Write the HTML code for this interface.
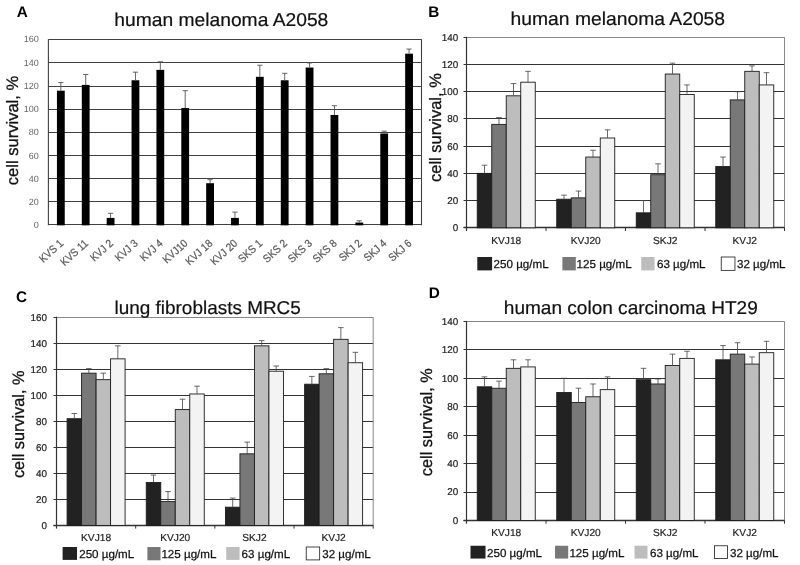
<!DOCTYPE html>
<html><head><meta charset="utf-8"><title>Figure</title>
<style>html,body{margin:0;padding:0;background:#fff;}body{width:800px;height:565px;overflow:hidden;}svg{display:block;font-family:'Liberation Sans', sans-serif;filter:grayscale(1);text-rendering:geometricPrecision;}</style>
</head><body>
<svg width="800" height="565" viewBox="0 0 800 565">
<rect width="800" height="565" fill="#fff"/>
<line x1="48.4" x2="421.5" y1="224.5" y2="224.5" stroke="#414141" stroke-width="1.2"/>
<text x="38.7" y="227.95" font-size="9" fill="#666" text-anchor="end">0</text>
<line x1="48.4" x2="421.5" y1="201.5" y2="201.5" stroke="#414141" stroke-width="1.2"/>
<text x="38.7" y="204.82" font-size="9" fill="#666" text-anchor="end">20</text>
<line x1="48.4" x2="421.5" y1="178.5" y2="178.5" stroke="#414141" stroke-width="1.2"/>
<text x="38.7" y="181.69" font-size="9" fill="#666" text-anchor="end">40</text>
<line x1="48.4" x2="421.5" y1="155.5" y2="155.5" stroke="#414141" stroke-width="1.2"/>
<text x="38.7" y="158.55" font-size="9" fill="#666" text-anchor="end">60</text>
<line x1="48.4" x2="421.5" y1="132.5" y2="132.5" stroke="#414141" stroke-width="1.2"/>
<text x="38.7" y="135.42" font-size="9" fill="#666" text-anchor="end">80</text>
<line x1="48.4" x2="421.5" y1="109.5" y2="109.5" stroke="#414141" stroke-width="1.2"/>
<text x="38.7" y="112.29" font-size="9" fill="#666" text-anchor="end">100</text>
<line x1="48.4" x2="421.5" y1="86.5" y2="86.5" stroke="#414141" stroke-width="1.2"/>
<text x="38.7" y="89.16" font-size="9" fill="#666" text-anchor="end">120</text>
<line x1="48.4" x2="421.5" y1="62.5" y2="62.5" stroke="#414141" stroke-width="1.2"/>
<text x="38.7" y="66.03" font-size="9" fill="#666" text-anchor="end">140</text>
<line x1="48.4" x2="421.5" y1="39.5" y2="39.5" stroke="#414141" stroke-width="1.2"/>
<text x="38.7" y="41.59" font-size="9" fill="#666" text-anchor="end">160</text>
<line x1="48.4" x2="48.4" y1="39.29" y2="225.35" stroke="#414141" stroke-width="1.1"/>
<line x1="421.5" x2="421.5" y1="39.29" y2="225.35" stroke="#414141" stroke-width="1.1"/>
<rect x="56.94" y="90.68" width="7.8" height="134.67" fill="#000"/>
<path d="M60.84 90.68V82.59M58.24 82.59H63.44" stroke="#555" stroke-width="0.9" fill="none"/>
<text transform="translate(64.04 244.4) rotate(-42) scale(0.9 1)" font-size="11" fill="#5a5a5a" stroke="#5a5a5a" stroke-width="0.25" text-anchor="end">KVS 1</text>
<rect x="81.81" y="84.9" width="7.8" height="140.45" fill="#000"/>
<path d="M85.71 84.9V74.49M83.11 74.49H88.31" stroke="#555" stroke-width="0.9" fill="none"/>
<text transform="translate(88.91 244.4) rotate(-42) scale(0.9 1)" font-size="11" fill="#5a5a5a" stroke="#5a5a5a" stroke-width="0.25" text-anchor="end">KVS 11</text>
<rect x="106.68" y="217.91" width="7.8" height="7.44" fill="#000"/>
<path d="M110.58 217.91V213.28M107.98 213.28H113.18" stroke="#555" stroke-width="0.9" fill="none"/>
<text transform="translate(113.78 244.4) rotate(-42) scale(0.9 1)" font-size="11" fill="#5a5a5a" stroke="#5a5a5a" stroke-width="0.25" text-anchor="end">KVJ 2</text>
<rect x="131.56" y="80.27" width="7.8" height="145.08" fill="#000"/>
<path d="M135.46 80.27V72.18M132.86 72.18H138.06" stroke="#555" stroke-width="0.9" fill="none"/>
<text transform="translate(138.66 244.4) rotate(-42) scale(0.9 1)" font-size="11" fill="#5a5a5a" stroke="#5a5a5a" stroke-width="0.25" text-anchor="end">KVJ 3</text>
<rect x="156.43" y="69.87" width="7.8" height="155.48" fill="#000"/>
<path d="M160.33 69.87V61.77M157.73 61.77H162.93" stroke="#555" stroke-width="0.9" fill="none"/>
<text transform="translate(163.53 244.4) rotate(-42) scale(0.9 1)" font-size="11" fill="#5a5a5a" stroke="#5a5a5a" stroke-width="0.25" text-anchor="end">KVJ 4</text>
<rect x="181.3" y="108.03" width="7.8" height="117.32" fill="#000"/>
<path d="M185.2 108.03V90.68M182.6 90.68H187.8" stroke="#555" stroke-width="0.9" fill="none"/>
<text transform="translate(188.4 244.4) rotate(-42) scale(0.9 1)" font-size="11" fill="#5a5a5a" stroke="#5a5a5a" stroke-width="0.25" text-anchor="end">KVJ10</text>
<rect x="206.18" y="183.21" width="7.8" height="42.14" fill="#000"/>
<path d="M210.08 183.21V179.74M207.48 179.74H212.68" stroke="#555" stroke-width="0.9" fill="none"/>
<text transform="translate(213.28 244.4) rotate(-42) scale(0.9 1)" font-size="11" fill="#5a5a5a" stroke="#5a5a5a" stroke-width="0.25" text-anchor="end">KVJ 18</text>
<rect x="231.05" y="217.91" width="7.8" height="7.44" fill="#000"/>
<path d="M234.95 217.91V212.13M232.35 212.13H237.55" stroke="#555" stroke-width="0.9" fill="none"/>
<text transform="translate(238.15 244.4) rotate(-42) scale(0.9 1)" font-size="11" fill="#5a5a5a" stroke="#5a5a5a" stroke-width="0.25" text-anchor="end">KVJ 20</text>
<rect x="255.92" y="76.81" width="7.8" height="148.54" fill="#000"/>
<path d="M259.82 76.81V65.24M257.22 65.24H262.42" stroke="#555" stroke-width="0.9" fill="none"/>
<text transform="translate(263.02 244.4) rotate(-42) scale(0.9 1)" font-size="11" fill="#5a5a5a" stroke="#5a5a5a" stroke-width="0.25" text-anchor="end">SKS 1</text>
<rect x="280.8" y="80.27" width="7.8" height="145.08" fill="#000"/>
<path d="M284.7 80.27V73.34M282.1 73.34H287.3" stroke="#555" stroke-width="0.9" fill="none"/>
<text transform="translate(287.9 244.4) rotate(-42) scale(0.9 1)" font-size="11" fill="#5a5a5a" stroke="#5a5a5a" stroke-width="0.25" text-anchor="end">SKS 2</text>
<rect x="305.67" y="67.55" width="7.8" height="157.8" fill="#000"/>
<path d="M309.57 67.55V62.93M306.97 62.93H312.17" stroke="#555" stroke-width="0.9" fill="none"/>
<text transform="translate(312.77 244.4) rotate(-42) scale(0.9 1)" font-size="11" fill="#5a5a5a" stroke="#5a5a5a" stroke-width="0.25" text-anchor="end">SKS 3</text>
<rect x="330.54" y="114.97" width="7.8" height="110.38" fill="#000"/>
<path d="M334.44 114.97V105.72M331.84 105.72H337.04" stroke="#555" stroke-width="0.9" fill="none"/>
<text transform="translate(337.64 244.4) rotate(-42) scale(0.9 1)" font-size="11" fill="#5a5a5a" stroke="#5a5a5a" stroke-width="0.25" text-anchor="end">SKS 8</text>
<rect x="355.42" y="222.54" width="7.8" height="2.81" fill="#000"/>
<path d="M359.32 222.54V220.8M356.72 220.8H361.92" stroke="#555" stroke-width="0.9" fill="none"/>
<text transform="translate(362.52 244.4) rotate(-42) scale(0.9 1)" font-size="11" fill="#5a5a5a" stroke="#5a5a5a" stroke-width="0.25" text-anchor="end">SKJ 2</text>
<rect x="380.29" y="133.48" width="7.8" height="91.87" fill="#000"/>
<path d="M384.19 133.48V131.17M381.59 131.17H386.79" stroke="#555" stroke-width="0.9" fill="none"/>
<text transform="translate(387.39 244.4) rotate(-42) scale(0.9 1)" font-size="11" fill="#5a5a5a" stroke="#5a5a5a" stroke-width="0.25" text-anchor="end">SKJ 4</text>
<rect x="405.16" y="53.67" width="7.8" height="171.68" fill="#000"/>
<path d="M409.06 53.67V49.05M406.46 49.05H411.66" stroke="#555" stroke-width="0.9" fill="none"/>
<text transform="translate(412.26 244.4) rotate(-42) scale(0.9 1)" font-size="11" fill="#5a5a5a" stroke="#5a5a5a" stroke-width="0.25" text-anchor="end">SKJ 6</text>
<text x="114.3" y="26.1" font-size="18.6" fill="#111" stroke="#111" stroke-width="0.2" textLength="214" lengthAdjust="spacingAndGlyphs">human melanoma A2058</text>
<text transform="translate(18.4 130.5) rotate(-90)" font-size="16.5" fill="#111" stroke="#111" stroke-width="0.3" text-anchor="middle" textLength="109.4" lengthAdjust="spacingAndGlyphs">cell survival, %</text>
<text x="16.8" y="17" font-size="15.3" font-weight="bold" fill="#000">A</text>
<line x1="466.5" x2="784.5" y1="227.5" y2="227.5" stroke="#333" stroke-width="1"/>
<line x1="463.5" x2="466.5" y1="227.5" y2="227.5" stroke="#333" stroke-width="1"/>
<text x="458.3" y="231.2" font-size="9.9" fill="#222" stroke="#222" stroke-width="0.2" text-anchor="end">0</text>
<line x1="466.5" x2="784.5" y1="200.5" y2="200.5" stroke="#333" stroke-width="1"/>
<line x1="463.5" x2="466.5" y1="200.5" y2="200.5" stroke="#333" stroke-width="1"/>
<text x="458.3" y="203.99" font-size="9.9" fill="#222" stroke="#222" stroke-width="0.2" text-anchor="end">20</text>
<line x1="466.5" x2="784.5" y1="173.5" y2="173.5" stroke="#333" stroke-width="1"/>
<line x1="463.5" x2="466.5" y1="173.5" y2="173.5" stroke="#333" stroke-width="1"/>
<text x="458.3" y="176.77" font-size="9.9" fill="#222" stroke="#222" stroke-width="0.2" text-anchor="end">40</text>
<line x1="466.5" x2="784.5" y1="146.5" y2="146.5" stroke="#333" stroke-width="1"/>
<line x1="463.5" x2="466.5" y1="146.5" y2="146.5" stroke="#333" stroke-width="1"/>
<text x="458.3" y="149.56" font-size="9.9" fill="#222" stroke="#222" stroke-width="0.2" text-anchor="end">60</text>
<line x1="466.5" x2="784.5" y1="118.5" y2="118.5" stroke="#333" stroke-width="1"/>
<line x1="463.5" x2="466.5" y1="118.5" y2="118.5" stroke="#333" stroke-width="1"/>
<text x="458.3" y="122.34" font-size="9.9" fill="#222" stroke="#222" stroke-width="0.2" text-anchor="end">80</text>
<line x1="466.5" x2="784.5" y1="91.5" y2="91.5" stroke="#333" stroke-width="1"/>
<line x1="463.5" x2="466.5" y1="91.5" y2="91.5" stroke="#333" stroke-width="1"/>
<text x="458.3" y="95.13" font-size="9.9" fill="#222" stroke="#222" stroke-width="0.2" text-anchor="end">100</text>
<line x1="466.5" x2="784.5" y1="64.5" y2="64.5" stroke="#333" stroke-width="1"/>
<line x1="463.5" x2="466.5" y1="64.5" y2="64.5" stroke="#333" stroke-width="1"/>
<text x="458.3" y="67.91" font-size="9.9" fill="#222" stroke="#222" stroke-width="0.2" text-anchor="end">120</text>
<line x1="466.5" x2="784.5" y1="37.5" y2="37.5" stroke="#888" stroke-width="1"/>
<line x1="463.5" x2="466.5" y1="37.5" y2="37.5" stroke="#333" stroke-width="1"/>
<text x="458.3" y="40.7" font-size="9.9" fill="#222" stroke="#222" stroke-width="0.2" text-anchor="end">140</text>
<line x1="784.5" x2="784.5" y1="37.3" y2="227.8" stroke="#888" stroke-width="1"/>
<line x1="466.5" x2="466.5" y1="36.8" y2="231" stroke="#333" stroke-width="1.2"/>
<line x1="463.5" x2="784.5" y1="227.5" y2="227.5" stroke="#333" stroke-width="1.3"/>
<line x1="546" x2="546" y1="227.8" y2="231" stroke="#333" stroke-width="1"/>
<rect x="477.25" y="173.37" width="14.5" height="54.43" fill="#222222" stroke="#1c1c1c" stroke-width="0.9"/>
<path d="M484.5 173.37V165.21M481.7 165.21H487.3" stroke="#444" stroke-width="0.8" fill="none"/>
<rect x="491.75" y="124.39" width="14.5" height="103.41" fill="#787878" stroke="#1c1c1c" stroke-width="0.9"/>
<path d="M499 124.39V117.58M496.2 117.58H501.8" stroke="#444" stroke-width="0.8" fill="none"/>
<rect x="506.25" y="95.81" width="14.5" height="131.99" fill="#bdbdbd" stroke="#1c1c1c" stroke-width="0.9"/>
<path d="M513.5 95.81V83.56M510.7 83.56H516.3" stroke="#444" stroke-width="0.8" fill="none"/>
<rect x="520.75" y="82.2" width="14.5" height="145.6" fill="#f3f3f3" stroke="#1c1c1c" stroke-width="0.9"/>
<path d="M528 82.2V71.32M525.2 71.32H530.8" stroke="#444" stroke-width="0.8" fill="none"/>
<text x="506.25" y="243.6" font-size="10.2" fill="#222" stroke="#222" stroke-width="0.2" text-anchor="middle">KVJ18</text>
<line x1="625.5" x2="625.5" y1="227.8" y2="231" stroke="#333" stroke-width="1"/>
<rect x="556.75" y="199.23" width="14.5" height="28.57" fill="#222222" stroke="#1c1c1c" stroke-width="0.9"/>
<path d="M564 199.23V195.14M561.2 195.14H566.8" stroke="#444" stroke-width="0.8" fill="none"/>
<rect x="571.25" y="197.86" width="14.5" height="29.94" fill="#787878" stroke="#1c1c1c" stroke-width="0.9"/>
<path d="M578.5 197.86V191.06M575.7 191.06H581.3" stroke="#444" stroke-width="0.8" fill="none"/>
<rect x="585.75" y="157.04" width="14.5" height="70.76" fill="#bdbdbd" stroke="#1c1c1c" stroke-width="0.9"/>
<path d="M593 157.04V150.24M590.2 150.24H595.8" stroke="#444" stroke-width="0.8" fill="none"/>
<rect x="600.25" y="137.99" width="14.5" height="89.81" fill="#f3f3f3" stroke="#1c1c1c" stroke-width="0.9"/>
<path d="M607.5 137.99V129.83M604.7 129.83H610.3" stroke="#444" stroke-width="0.8" fill="none"/>
<text x="585.75" y="243.6" font-size="10.2" fill="#222" stroke="#222" stroke-width="0.2" text-anchor="middle">KVJ20</text>
<line x1="705" x2="705" y1="227.8" y2="231" stroke="#333" stroke-width="1"/>
<rect x="636.25" y="212.83" width="14.5" height="14.97" fill="#222222" stroke="#1c1c1c" stroke-width="0.9"/>
<path d="M643.5 212.83V200.59M640.7 200.59H646.3" stroke="#444" stroke-width="0.8" fill="none"/>
<rect x="650.75" y="174.73" width="14.5" height="53.07" fill="#787878" stroke="#1c1c1c" stroke-width="0.9"/>
<path d="M658 174.73V163.85M655.2 163.85H660.8" stroke="#444" stroke-width="0.8" fill="none"/>
<rect x="665.25" y="74.04" width="14.5" height="153.76" fill="#bdbdbd" stroke="#1c1c1c" stroke-width="0.9"/>
<path d="M672.5 74.04V63.15M669.7 63.15H675.3" stroke="#444" stroke-width="0.8" fill="none"/>
<rect x="679.75" y="94.45" width="14.5" height="133.35" fill="#f3f3f3" stroke="#1c1c1c" stroke-width="0.9"/>
<path d="M687 94.45V84.93M684.2 84.93H689.8" stroke="#444" stroke-width="0.8" fill="none"/>
<text x="665.25" y="243.6" font-size="10.2" fill="#222" stroke="#222" stroke-width="0.2" text-anchor="middle">SKJ2</text>
<line x1="784.5" x2="784.5" y1="227.8" y2="231" stroke="#333" stroke-width="1"/>
<rect x="715.75" y="166.57" width="14.5" height="61.23" fill="#222222" stroke="#1c1c1c" stroke-width="0.9"/>
<path d="M723 166.57V157.04M720.2 157.04H725.8" stroke="#444" stroke-width="0.8" fill="none"/>
<rect x="730.25" y="99.89" width="14.5" height="127.91" fill="#787878" stroke="#1c1c1c" stroke-width="0.9"/>
<path d="M737.5 99.89V91.73M734.7 91.73H740.3" stroke="#444" stroke-width="0.8" fill="none"/>
<rect x="744.75" y="71.32" width="14.5" height="156.48" fill="#bdbdbd" stroke="#1c1c1c" stroke-width="0.9"/>
<path d="M752 71.32V65.88M749.2 65.88H754.8" stroke="#444" stroke-width="0.8" fill="none"/>
<rect x="759.25" y="84.93" width="14.5" height="142.88" fill="#f3f3f3" stroke="#1c1c1c" stroke-width="0.9"/>
<path d="M766.5 84.93V72.68M763.7 72.68H769.3" stroke="#444" stroke-width="0.8" fill="none"/>
<text x="744.75" y="243.6" font-size="10.2" fill="#222" stroke="#222" stroke-width="0.2" text-anchor="middle">KVJ2</text>
<rect x="477.3" y="257" width="14.8" height="13.4" fill="#222222"/>
<text x="493.6" y="268.2" font-size="11.6" fill="#111" stroke="#111" stroke-width="0.25">250 µg/mL</text>
<rect x="562.4" y="257" width="13.4" height="13.4" fill="#787878"/>
<text x="576.6" y="268.2" font-size="11.6" fill="#111" stroke="#111" stroke-width="0.25">125 µg/mL</text>
<rect x="641.25" y="257" width="13.3" height="13.4" fill="#bdbdbd"/>
<text x="657" y="268.2" font-size="11.6" fill="#111" stroke="#111" stroke-width="0.25">63 µg/mL</text>
<rect x="721.25" y="257" width="13.7" height="13.4" fill="#fff" stroke="#333" stroke-width="0.9"/>
<text x="737" y="268.2" font-size="11.6" fill="#111" stroke="#111" stroke-width="0.25">32 µg/mL</text>
<text x="510.6" y="24.9" font-size="18.6" fill="#111" stroke="#111" stroke-width="0.2" textLength="214.5" lengthAdjust="spacingAndGlyphs">human melanoma A2058</text>
<text transform="translate(440.8 127.6) rotate(-90)" font-size="16.5" fill="#111" stroke="#111" stroke-width="0.3" text-anchor="middle" textLength="108.8" lengthAdjust="spacingAndGlyphs">cell survival, %</text>
<text x="428.3" y="16.7" font-size="15.3" font-weight="bold" fill="#000">B</text>
<line x1="56.5" x2="373.2" y1="525.5" y2="525.5" stroke="#333" stroke-width="1"/>
<line x1="53.5" x2="56.5" y1="525.5" y2="525.5" stroke="#333" stroke-width="1"/>
<text x="47" y="528.8" font-size="9.9" fill="#222" stroke="#222" stroke-width="0.2" text-anchor="end">0</text>
<line x1="56.5" x2="373.2" y1="499.5" y2="499.5" stroke="#333" stroke-width="1"/>
<line x1="53.5" x2="56.5" y1="499.5" y2="499.5" stroke="#333" stroke-width="1"/>
<text x="47" y="502.77" font-size="9.9" fill="#222" stroke="#222" stroke-width="0.2" text-anchor="end">20</text>
<line x1="56.5" x2="373.2" y1="473.5" y2="473.5" stroke="#333" stroke-width="1"/>
<line x1="53.5" x2="56.5" y1="473.5" y2="473.5" stroke="#333" stroke-width="1"/>
<text x="47" y="476.75" font-size="9.9" fill="#222" stroke="#222" stroke-width="0.2" text-anchor="end">40</text>
<line x1="56.5" x2="373.2" y1="447.5" y2="447.5" stroke="#333" stroke-width="1"/>
<line x1="53.5" x2="56.5" y1="447.5" y2="447.5" stroke="#333" stroke-width="1"/>
<text x="47" y="450.72" font-size="9.9" fill="#222" stroke="#222" stroke-width="0.2" text-anchor="end">60</text>
<line x1="56.5" x2="373.2" y1="421.5" y2="421.5" stroke="#333" stroke-width="1"/>
<line x1="53.5" x2="56.5" y1="421.5" y2="421.5" stroke="#333" stroke-width="1"/>
<text x="47" y="424.7" font-size="9.9" fill="#222" stroke="#222" stroke-width="0.2" text-anchor="end">80</text>
<line x1="56.5" x2="373.2" y1="395.5" y2="395.5" stroke="#333" stroke-width="1"/>
<line x1="53.5" x2="56.5" y1="395.5" y2="395.5" stroke="#333" stroke-width="1"/>
<text x="47" y="398.67" font-size="9.9" fill="#222" stroke="#222" stroke-width="0.2" text-anchor="end">100</text>
<line x1="56.5" x2="373.2" y1="369.5" y2="369.5" stroke="#333" stroke-width="1"/>
<line x1="53.5" x2="56.5" y1="369.5" y2="369.5" stroke="#333" stroke-width="1"/>
<text x="47" y="372.65" font-size="9.9" fill="#222" stroke="#222" stroke-width="0.2" text-anchor="end">120</text>
<line x1="56.5" x2="373.2" y1="343.5" y2="343.5" stroke="#333" stroke-width="1"/>
<line x1="53.5" x2="56.5" y1="343.5" y2="343.5" stroke="#333" stroke-width="1"/>
<text x="47" y="346.62" font-size="9.9" fill="#222" stroke="#222" stroke-width="0.2" text-anchor="end">140</text>
<line x1="56.5" x2="373.2" y1="317.5" y2="317.5" stroke="#888" stroke-width="1"/>
<line x1="53.5" x2="56.5" y1="317.5" y2="317.5" stroke="#333" stroke-width="1"/>
<text x="47" y="320.6" font-size="9.9" fill="#222" stroke="#222" stroke-width="0.2" text-anchor="end">160</text>
<line x1="373.2" x2="373.2" y1="317.2" y2="525.4" stroke="#888" stroke-width="1"/>
<line x1="56.5" x2="56.5" y1="316.7" y2="528.6" stroke="#333" stroke-width="1.2"/>
<line x1="53.5" x2="373.2" y1="525.5" y2="525.5" stroke="#333" stroke-width="1.3"/>
<line x1="135.68" x2="135.68" y1="525.4" y2="528.6" stroke="#333" stroke-width="1"/>
<rect x="67.09" y="418.7" width="14.5" height="106.7" fill="#222222" stroke="#1c1c1c" stroke-width="0.9"/>
<path d="M74.34 418.7V413.49M71.54 413.49H77.14" stroke="#444" stroke-width="0.8" fill="none"/>
<rect x="81.59" y="373.15" width="14.5" height="152.25" fill="#787878" stroke="#1c1c1c" stroke-width="0.9"/>
<path d="M88.84 373.15V368.6M86.04 368.6H91.64" stroke="#444" stroke-width="0.8" fill="none"/>
<rect x="96.09" y="379.66" width="14.5" height="145.74" fill="#bdbdbd" stroke="#1c1c1c" stroke-width="0.9"/>
<path d="M103.34 379.66V373.15M100.54 373.15H106.14" stroke="#444" stroke-width="0.8" fill="none"/>
<rect x="110.59" y="358.84" width="14.5" height="166.56" fill="#f3f3f3" stroke="#1c1c1c" stroke-width="0.9"/>
<path d="M117.84 358.84V345.83M115.04 345.83H120.64" stroke="#444" stroke-width="0.8" fill="none"/>
<text x="96.09" y="541.1" font-size="10.2" fill="#222" stroke="#222" stroke-width="0.2" text-anchor="middle">KVJ18</text>
<line x1="214.85" x2="214.85" y1="525.4" y2="528.6" stroke="#333" stroke-width="1"/>
<rect x="146.26" y="482.46" width="14.5" height="42.94" fill="#222222" stroke="#1c1c1c" stroke-width="0.9"/>
<path d="M153.51 482.46V475.04M150.71 475.04H156.31" stroke="#444" stroke-width="0.8" fill="none"/>
<rect x="160.76" y="501.59" width="14.5" height="23.81" fill="#787878" stroke="#1c1c1c" stroke-width="0.9"/>
<path d="M168.01 501.59V491.57M165.21 491.57H170.81" stroke="#444" stroke-width="0.8" fill="none"/>
<rect x="175.26" y="409.59" width="14.5" height="115.81" fill="#bdbdbd" stroke="#1c1c1c" stroke-width="0.9"/>
<path d="M182.51 409.59V399.18M179.71 399.18H185.31" stroke="#444" stroke-width="0.8" fill="none"/>
<rect x="189.76" y="393.97" width="14.5" height="131.43" fill="#f3f3f3" stroke="#1c1c1c" stroke-width="0.9"/>
<path d="M197.01 393.97V386.17M194.21 386.17H199.81" stroke="#444" stroke-width="0.8" fill="none"/>
<text x="175.26" y="541.1" font-size="10.2" fill="#222" stroke="#222" stroke-width="0.2" text-anchor="middle">KVJ20</text>
<line x1="294.02" x2="294.02" y1="525.4" y2="528.6" stroke="#333" stroke-width="1"/>
<rect x="225.44" y="507.18" width="14.5" height="18.22" fill="#222222" stroke="#1c1c1c" stroke-width="0.9"/>
<path d="M232.69 507.18V498.07M229.89 498.07H235.49" stroke="#444" stroke-width="0.8" fill="none"/>
<rect x="239.94" y="453.83" width="14.5" height="71.57" fill="#787878" stroke="#1c1c1c" stroke-width="0.9"/>
<path d="M247.19 453.83V442.12M244.39 442.12H249.99" stroke="#444" stroke-width="0.8" fill="none"/>
<rect x="254.44" y="345.83" width="14.5" height="179.57" fill="#bdbdbd" stroke="#1c1c1c" stroke-width="0.9"/>
<path d="M261.69 345.83V340.62M258.89 340.62H264.49" stroke="#444" stroke-width="0.8" fill="none"/>
<rect x="268.94" y="371.2" width="14.5" height="154.2" fill="#f3f3f3" stroke="#1c1c1c" stroke-width="0.9"/>
<path d="M276.19 371.2V366M273.39 366H278.99" stroke="#444" stroke-width="0.8" fill="none"/>
<text x="254.44" y="541.1" font-size="10.2" fill="#222" stroke="#222" stroke-width="0.2" text-anchor="middle">SKJ2</text>
<line x1="373.2" x2="373.2" y1="525.4" y2="528.6" stroke="#333" stroke-width="1"/>
<rect x="304.61" y="384.21" width="14.5" height="141.19" fill="#222222" stroke="#1c1c1c" stroke-width="0.9"/>
<path d="M311.86 384.21V376.41M309.06 376.41H314.66" stroke="#444" stroke-width="0.8" fill="none"/>
<rect x="319.11" y="373.8" width="14.5" height="151.6" fill="#787878" stroke="#1c1c1c" stroke-width="0.9"/>
<path d="M326.36 373.8V368.6M323.56 368.6H329.16" stroke="#444" stroke-width="0.8" fill="none"/>
<rect x="333.61" y="339.32" width="14.5" height="186.08" fill="#bdbdbd" stroke="#1c1c1c" stroke-width="0.9"/>
<path d="M340.86 339.32V327.61M338.06 327.61H343.66" stroke="#444" stroke-width="0.8" fill="none"/>
<rect x="348.11" y="362.74" width="14.5" height="162.66" fill="#f3f3f3" stroke="#1c1c1c" stroke-width="0.9"/>
<path d="M355.36 362.74V352.33M352.56 352.33H358.16" stroke="#444" stroke-width="0.8" fill="none"/>
<text x="333.61" y="541.1" font-size="10.2" fill="#222" stroke="#222" stroke-width="0.2" text-anchor="middle">KVJ2</text>
<rect x="62.6" y="547" width="14.4" height="12.9" fill="#222222"/>
<text x="79.2" y="557.8" font-size="11.6" fill="#111" stroke="#111" stroke-width="0.25">250 µg/mL</text>
<rect x="147.4" y="547" width="13.1" height="13.3" fill="#787878"/>
<text x="161.4" y="557.8" font-size="11.6" fill="#111" stroke="#111" stroke-width="0.25">125 µg/mL</text>
<rect x="226.25" y="547" width="13.3" height="12.9" fill="#bdbdbd"/>
<text x="241.6" y="557.8" font-size="11.6" fill="#111" stroke="#111" stroke-width="0.25">63 µg/mL</text>
<rect x="306.25" y="547" width="13.4" height="12.9" fill="#fff" stroke="#333" stroke-width="0.9"/>
<text x="322.2" y="557.8" font-size="11.6" fill="#111" stroke="#111" stroke-width="0.25">32 µg/mL</text>
<text x="114.5" y="314.2" font-size="18.6" fill="#111" stroke="#111" stroke-width="0.2" textLength="186.3" lengthAdjust="spacingAndGlyphs">lung fibroblasts MRC5</text>
<text transform="translate(23.7 424.3) rotate(-90)" font-size="16.5" fill="#111" stroke="#111" stroke-width="0.3" text-anchor="middle" textLength="107.6" lengthAdjust="spacingAndGlyphs">cell survival, %</text>
<text x="16.1" y="302.2" font-size="15.3" font-weight="bold" fill="#000">C</text>
<line x1="466.5" x2="784.5" y1="520.5" y2="520.5" stroke="#333" stroke-width="1"/>
<line x1="463.5" x2="466.5" y1="520.5" y2="520.5" stroke="#333" stroke-width="1"/>
<text x="458.3" y="523.9" font-size="9.9" fill="#222" stroke="#222" stroke-width="0.2" text-anchor="end">0</text>
<line x1="466.5" x2="784.5" y1="492.5" y2="492.5" stroke="#333" stroke-width="1"/>
<line x1="463.5" x2="466.5" y1="492.5" y2="492.5" stroke="#333" stroke-width="1"/>
<text x="458.3" y="495.46" font-size="9.9" fill="#222" stroke="#222" stroke-width="0.2" text-anchor="end">20</text>
<line x1="466.5" x2="784.5" y1="463.5" y2="463.5" stroke="#333" stroke-width="1"/>
<line x1="463.5" x2="466.5" y1="463.5" y2="463.5" stroke="#333" stroke-width="1"/>
<text x="458.3" y="467.01" font-size="9.9" fill="#222" stroke="#222" stroke-width="0.2" text-anchor="end">40</text>
<line x1="466.5" x2="784.5" y1="435.5" y2="435.5" stroke="#333" stroke-width="1"/>
<line x1="463.5" x2="466.5" y1="435.5" y2="435.5" stroke="#333" stroke-width="1"/>
<text x="458.3" y="438.57" font-size="9.9" fill="#222" stroke="#222" stroke-width="0.2" text-anchor="end">60</text>
<line x1="466.5" x2="784.5" y1="406.5" y2="406.5" stroke="#333" stroke-width="1"/>
<line x1="463.5" x2="466.5" y1="406.5" y2="406.5" stroke="#333" stroke-width="1"/>
<text x="458.3" y="410.13" font-size="9.9" fill="#222" stroke="#222" stroke-width="0.2" text-anchor="end">80</text>
<line x1="466.5" x2="784.5" y1="378.5" y2="378.5" stroke="#333" stroke-width="1"/>
<line x1="463.5" x2="466.5" y1="378.5" y2="378.5" stroke="#333" stroke-width="1"/>
<text x="458.3" y="381.69" font-size="9.9" fill="#222" stroke="#222" stroke-width="0.2" text-anchor="end">100</text>
<line x1="466.5" x2="784.5" y1="349.5" y2="349.5" stroke="#333" stroke-width="1"/>
<line x1="463.5" x2="466.5" y1="349.5" y2="349.5" stroke="#333" stroke-width="1"/>
<text x="458.3" y="353.24" font-size="9.9" fill="#222" stroke="#222" stroke-width="0.2" text-anchor="end">120</text>
<line x1="466.5" x2="784.5" y1="321.5" y2="321.5" stroke="#888" stroke-width="1"/>
<line x1="463.5" x2="466.5" y1="321.5" y2="321.5" stroke="#333" stroke-width="1"/>
<text x="458.3" y="324.8" font-size="9.9" fill="#222" stroke="#222" stroke-width="0.2" text-anchor="end">140</text>
<line x1="784.5" x2="784.5" y1="321.4" y2="520.5" stroke="#888" stroke-width="1"/>
<line x1="466.5" x2="466.5" y1="320.9" y2="523.7" stroke="#333" stroke-width="1.2"/>
<line x1="463.5" x2="784.5" y1="520.5" y2="520.5" stroke="#333" stroke-width="1.3"/>
<line x1="546" x2="546" y1="520.5" y2="523.7" stroke="#333" stroke-width="1"/>
<rect x="477.25" y="386.82" width="14.5" height="133.68" fill="#222222" stroke="#1c1c1c" stroke-width="0.9"/>
<path d="M484.5 386.82V376.86M481.7 376.86H487.3" stroke="#444" stroke-width="0.8" fill="none"/>
<rect x="491.75" y="388.24" width="14.5" height="132.26" fill="#787878" stroke="#1c1c1c" stroke-width="0.9"/>
<path d="M499 388.24V381.13M496.2 381.13H501.8" stroke="#444" stroke-width="0.8" fill="none"/>
<rect x="506.25" y="368.33" width="14.5" height="152.17" fill="#bdbdbd" stroke="#1c1c1c" stroke-width="0.9"/>
<path d="M513.5 368.33V359.8M510.7 359.8H516.3" stroke="#444" stroke-width="0.8" fill="none"/>
<rect x="520.75" y="366.91" width="14.5" height="153.59" fill="#f3f3f3" stroke="#1c1c1c" stroke-width="0.9"/>
<path d="M528 366.91V359.8M525.2 359.8H530.8" stroke="#444" stroke-width="0.8" fill="none"/>
<text x="506.25" y="536.2" font-size="10.2" fill="#222" stroke="#222" stroke-width="0.2" text-anchor="middle">KVJ18</text>
<line x1="625.5" x2="625.5" y1="520.5" y2="523.7" stroke="#333" stroke-width="1"/>
<rect x="556.75" y="392.51" width="14.5" height="127.99" fill="#222222" stroke="#1c1c1c" stroke-width="0.9"/>
<path d="M564 392.51V378.29M561.2 378.29H566.8" stroke="#444" stroke-width="0.8" fill="none"/>
<rect x="571.25" y="402.46" width="14.5" height="118.04" fill="#787878" stroke="#1c1c1c" stroke-width="0.9"/>
<path d="M578.5 402.46V388.24M575.7 388.24H581.3" stroke="#444" stroke-width="0.8" fill="none"/>
<rect x="585.75" y="396.77" width="14.5" height="123.73" fill="#bdbdbd" stroke="#1c1c1c" stroke-width="0.9"/>
<path d="M593 396.77V383.97M590.2 383.97H595.8" stroke="#444" stroke-width="0.8" fill="none"/>
<rect x="600.25" y="389.66" width="14.5" height="130.84" fill="#f3f3f3" stroke="#1c1c1c" stroke-width="0.9"/>
<path d="M607.5 389.66V376.86M604.7 376.86H610.3" stroke="#444" stroke-width="0.8" fill="none"/>
<text x="585.75" y="536.2" font-size="10.2" fill="#222" stroke="#222" stroke-width="0.2" text-anchor="middle">KVJ20</text>
<line x1="705" x2="705" y1="520.5" y2="523.7" stroke="#333" stroke-width="1"/>
<rect x="636.25" y="379.71" width="14.5" height="140.79" fill="#222222" stroke="#1c1c1c" stroke-width="0.9"/>
<path d="M643.5 379.71V368.33M640.7 368.33H646.3" stroke="#444" stroke-width="0.8" fill="none"/>
<rect x="650.75" y="383.97" width="14.5" height="136.53" fill="#787878" stroke="#1c1c1c" stroke-width="0.9"/>
<path d="M658 383.97V379M655.2 379H660.8" stroke="#444" stroke-width="0.8" fill="none"/>
<rect x="665.25" y="365.49" width="14.5" height="155.01" fill="#bdbdbd" stroke="#1c1c1c" stroke-width="0.9"/>
<path d="M672.5 365.49V354.11M669.7 354.11H675.3" stroke="#444" stroke-width="0.8" fill="none"/>
<rect x="679.75" y="358.38" width="14.5" height="162.12" fill="#f3f3f3" stroke="#1c1c1c" stroke-width="0.9"/>
<path d="M687 358.38V351.26M684.2 351.26H689.8" stroke="#444" stroke-width="0.8" fill="none"/>
<text x="665.25" y="536.2" font-size="10.2" fill="#222" stroke="#222" stroke-width="0.2" text-anchor="middle">SKJ2</text>
<line x1="784.5" x2="784.5" y1="520.5" y2="523.7" stroke="#333" stroke-width="1"/>
<rect x="715.75" y="359.8" width="14.5" height="160.7" fill="#222222" stroke="#1c1c1c" stroke-width="0.9"/>
<path d="M723 359.8V345.58M720.2 345.58H725.8" stroke="#444" stroke-width="0.8" fill="none"/>
<rect x="730.25" y="354.11" width="14.5" height="166.39" fill="#787878" stroke="#1c1c1c" stroke-width="0.9"/>
<path d="M737.5 354.11V342.73M734.7 342.73H740.3" stroke="#444" stroke-width="0.8" fill="none"/>
<rect x="744.75" y="364.06" width="14.5" height="156.44" fill="#bdbdbd" stroke="#1c1c1c" stroke-width="0.9"/>
<path d="M752 364.06V356.95M749.2 356.95H754.8" stroke="#444" stroke-width="0.8" fill="none"/>
<rect x="759.25" y="352.69" width="14.5" height="167.81" fill="#f3f3f3" stroke="#1c1c1c" stroke-width="0.9"/>
<path d="M766.5 352.69V341.31M763.7 341.31H769.3" stroke="#444" stroke-width="0.8" fill="none"/>
<text x="744.75" y="536.2" font-size="10.2" fill="#222" stroke="#222" stroke-width="0.2" text-anchor="middle">KVJ2</text>
<rect x="470.5" y="545.75" width="15" height="12.8" fill="#222222"/>
<text x="487" y="556.6" font-size="11.6" fill="#111" stroke="#111" stroke-width="0.25">250 µg/mL</text>
<rect x="555" y="545.75" width="13.2" height="12.8" fill="#787878"/>
<text x="569.4" y="556.6" font-size="11.6" fill="#111" stroke="#111" stroke-width="0.25">125 µg/mL</text>
<rect x="634.5" y="545.75" width="13" height="12.8" fill="#bdbdbd"/>
<text x="650" y="556.6" font-size="11.6" fill="#111" stroke="#111" stroke-width="0.25">63 µg/mL</text>
<rect x="714.5" y="545.75" width="13" height="12.8" fill="#fff" stroke="#333" stroke-width="0.9"/>
<text x="730" y="556.6" font-size="11.6" fill="#111" stroke="#111" stroke-width="0.25">32 µg/mL</text>
<text x="503.8" y="313.5" font-size="18.6" fill="#111" stroke="#111" stroke-width="0.2" textLength="254" lengthAdjust="spacingAndGlyphs">human colon carcinoma HT29</text>
<text transform="translate(432.3 422.2) rotate(-90)" font-size="16.5" fill="#111" stroke="#111" stroke-width="0.3" text-anchor="middle" textLength="108" lengthAdjust="spacingAndGlyphs">cell survival, %</text>
<text x="428.8" y="298.4" font-size="15.3" font-weight="bold" fill="#000">D</text>
</svg></body></html>
